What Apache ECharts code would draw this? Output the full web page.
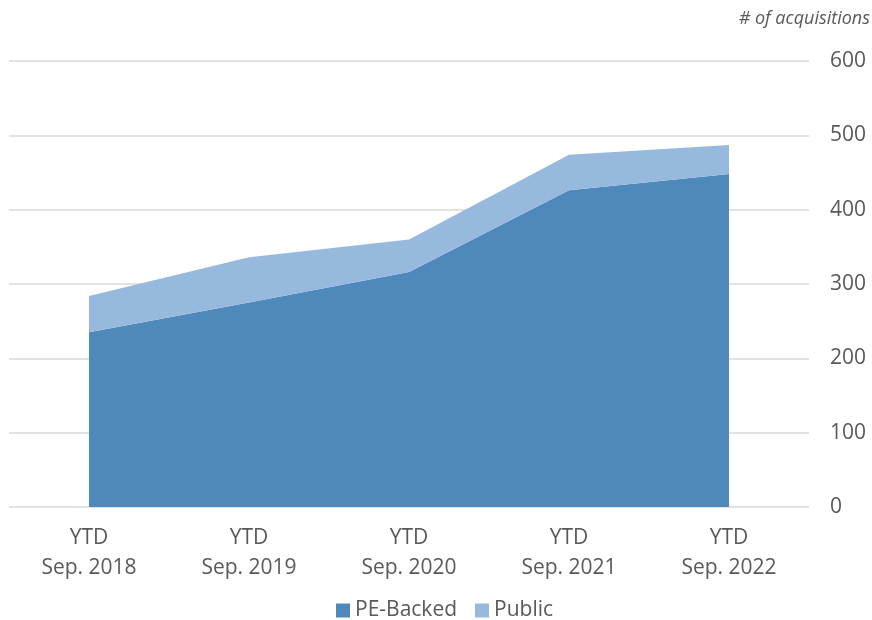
<!DOCTYPE html>
<html>
<head>
<meta charset="utf-8">
<script src="https://cdn.jsdelivr.net/npm/echarts@6/dist/echarts.min.js"></script>
<style>
html,body{margin:0;padding:0;background:#fff;}
#chart{width:872px;height:620px;}
</style>
</head>
<body>
<div id="chart"></div>
<script>
const categories = ['YTD\nSep. 2018', 'YTD\nSep. 2019', 'YTD\nSep. 2020', 'YTD\nSep. 2021', 'YTD\nSep. 2022'];
const peBacked = [235, 275, 316, 426, 448];
const publicCo = [49, 61, 44, 48, 39];
const yTicks = { min: 0, max: 600, interval: 100 };

const chart = echarts.init(document.getElementById('chart'));
const font = '"Open Sans", "Noto Sans", sans-serif';
chart.setOption({
  animation: false,
  textStyle: { fontFamily: font },
  title: {
    text: '# of acquisitions',
    right: -3,
    top: 5,
    textStyle: { fontFamily: font, fontSize: 18, fontStyle: 'italic', fontWeight: 'normal', color: '#595959' }
  },
  grid: { left: 9, right: 63, top: 61, bottom: 113, containLabel: false },
  legend: {
    left: 331,
    top: 595,
    icon: 'rect',
    itemWidth: 14,
    itemHeight: 14,
    itemGap: 18,
    textStyle: { fontFamily: font, fontSize: 21, color: '#595959' },
    data: ['PE-Backed', 'Public']
  },
  xAxis: {
    type: 'category',
    data: categories,
    boundaryGap: true,
    axisLine: { show: false },
    axisTick: { show: false },
    axisLabel: { fontFamily: font, fontSize: 21, color: '#595959', lineHeight: 30, margin: 16, interval: 0 }
  },
  yAxis: {
    type: 'value',
    position: 'right',
    min: yTicks.min,
    max: yTicks.max,
    interval: yTicks.interval,
    axisLine: { show: false },
    axisTick: { show: false },
    axisLabel: { fontFamily: font, fontSize: 21, color: '#595959', margin: 21 },
    splitLine: { lineStyle: { color: '#d9d9d9', width: 1.5 } }
  },
  series: [
    {
      name: 'PE-Backed',
      type: 'line',
      stack: 'total',
      data: peBacked,
      symbol: 'none',
      lineStyle: { width: 0 },
      areaStyle: { color: '#4f88bb', opacity: 1 },
      itemStyle: { color: '#4f88bb' }
    },
    {
      name: 'Public',
      type: 'line',
      stack: 'total',
      data: publicCo,
      symbol: 'none',
      lineStyle: { width: 0 },
      areaStyle: { color: '#98b9de', opacity: 1 },
      itemStyle: { color: '#98b9de' }
    }
  ]
});
</script>
</body>
</html>
